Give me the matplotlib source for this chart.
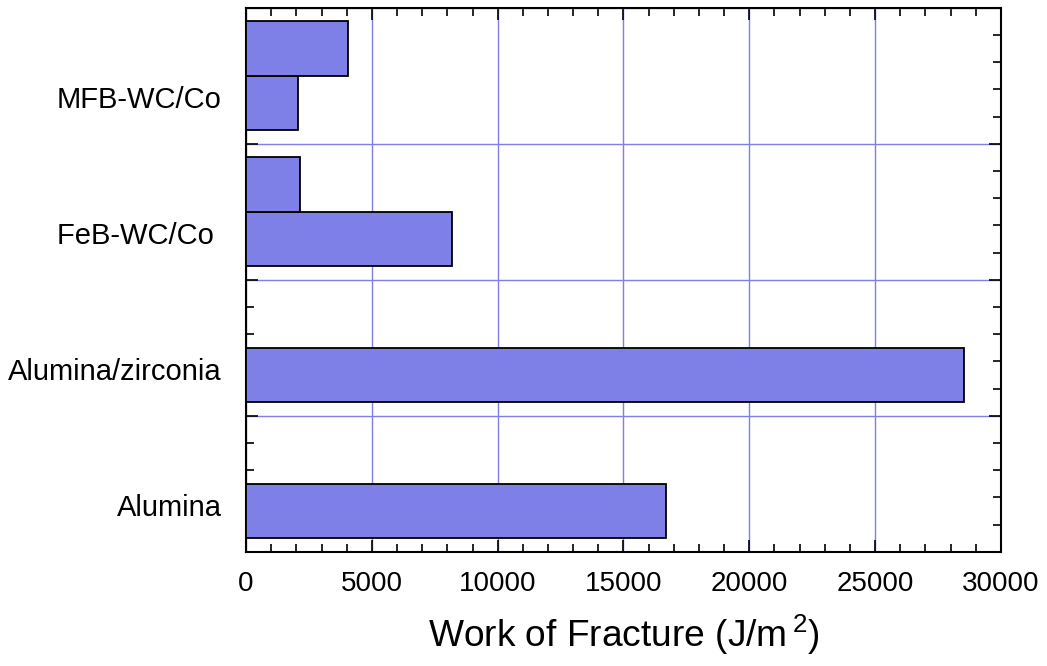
import numpy as np
import matplotlib
matplotlib.use("Agg")
import matplotlib.pyplot as plt
from matplotlib.ticker import MultipleLocator

plt.rcParams["font.family"] = ["Liberation Sans", "DejaVu Sans"]
plt.rcParams["mathtext.fontset"] = "custom"
plt.rcParams["mathtext.rm"] = "Liberation Sans"
plt.rcParams["mathtext.it"] = "Liberation Sans"

# datos (J/m^2)
categorias = ["Alumina", "Alumina/zirconia", "FeB-WC/Co ", "MFB-WC/Co"]
valor_inferior = [16700, 28550, 8200, 2080]
valor_superior = [None, None, 2150, 4070]

color_barra = "#7f7fe8"
color_grid = "#7f7fe6"

fig = plt.figure(figsize=(10.47, 6.66), dpi=100)
ax = fig.add_axes([0.235, 0.1716, 0.721, 0.8168])

y = np.arange(len(categorias))
ax.barh(y + 0.1, valor_inferior, height=0.4, align="edge",
        color=color_barra, edgecolor="black", linewidth=1.3, zorder=3)
for i, v in enumerate(valor_superior):
    if v is not None:
        ax.barh(y[i] + 0.5, v, height=0.4, align="edge",
                color=color_barra, edgecolor="black", linewidth=1.3, zorder=3)

ax.set_xlim(0, 30000)
ax.set_ylim(0, len(categorias))

ax.xaxis.set_major_locator(MultipleLocator(5000))
ax.xaxis.set_minor_locator(MultipleLocator(1000))
ax.yaxis.set_major_locator(MultipleLocator(1))
ax.yaxis.set_minor_locator(MultipleLocator(0.2))
ax.set_yticklabels([])

ax.tick_params(which="both", direction="in", top=True, right=True,
               width=1.2, color="black")
ax.tick_params(which="major", length=8.6)
ax.tick_params(which="minor", length=5.8)
ax.tick_params(axis="x", labelsize=20, pad=14)

ax.grid(True, which="major", color=color_grid, linewidth=1.0, zorder=0)
ax.set_axisbelow(True)

for s in ax.spines.values():
    s.set_linewidth(1.5)
    s.set_color("black")

for i, nombre in enumerate(categorias):
    ax.text(-0.032, (y[i] + 0.32) / len(categorias), nombre,
            transform=ax.transAxes, ha="right", va="center", fontsize=21)

ax.set_xlabel(r"Work of Fracture (J/m$\,^{2}$)", fontsize=26.7, labelpad=11)

fig.savefig("out.png", dpi=100)
